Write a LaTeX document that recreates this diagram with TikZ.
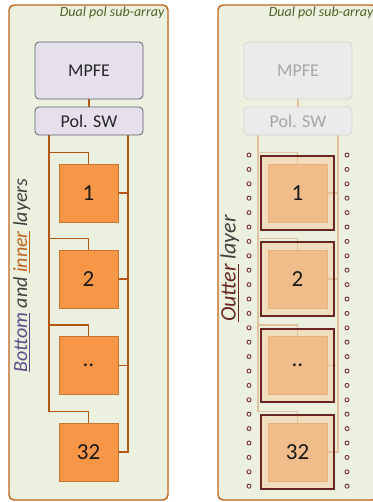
\documentclass[tikz,border=0pt]{standalone}
\usepackage{fontspec}
\setmainfont{Carlito}
\usetikzlibrary{calc}

% colours
\definecolor{panelfill}{HTML}{EBF1DE}
\definecolor{panelline}{HTML}{C0631C}
\definecolor{labelgreen}{HTML}{4F6228}
\definecolor{blockfill}{HTML}{E5E0EC}
\definecolor{blockline}{HTML}{5F5F6F}
\definecolor{feedcol}{HTML}{B35712}
\definecolor{elemfill}{HTML}{F79646}
\definecolor{elemline}{HTML}{C77535}
\definecolor{fadefill}{HTML}{EBEBEB}
\definecolor{fadeline}{HTML}{D4D4D4}
\definecolor{fadetext}{HTML}{A6A6A6}
\definecolor{fadefeed}{HTML}{E2C29C}
\definecolor{framefill}{HTML}{F0DDBE}
\definecolor{frameline}{HTML}{6B2424}
\definecolor{patchfill}{HTML}{F0BD8A}
\definecolor{patchline}{HTML}{E8B07C}
\definecolor{viacol}{HTML}{7B2C2C}
\definecolor{txtgray}{HTML}{404040}
\definecolor{purp}{HTML}{5F4B8B}
\definecolor{innercol}{HTML}{C0651F}

% underlined word in the current colour
\newcommand{\ulword}[1]{\setbox0\hbox{#1}\rlap{\rule[-3.4pt]{\wd0}{1.2pt}}\box0}

\pgfdeclarelayer{bg}
\pgfdeclarelayer{lines}
\pgfsetlayers{bg,lines,main}

\begin{document}
\begin{tikzpicture}[x=1pt,y=-1pt,
  panel/.style={draw=panelline, line width=1.4pt, fill=panelfill, rounded corners=5pt},
  sublabel/.style={font=\fontsize{14}{16}\selectfont\itshape, text=labelgreen, anchor=base east, inner sep=0pt},
  ctrl/.style={draw=blockline, line width=0.8pt, fill=blockfill, rounded corners=4pt,
    minimum width=108pt, inner sep=0pt, font=\fontsize{18}{20}\selectfont, text=black!85},
  ctrlfaded/.style={ctrl, draw=fadeline, fill=fadefill, text=fadetext},
  elem/.style={draw=elemline, line width=0.9pt, fill=elemfill, minimum width=59pt,
    minimum height=58pt, inner sep=0pt, font=\fontsize{23}{25}\selectfont, text=black!90},
  patch/.style={elem, draw=patchline, fill=patchfill},
  frameback/.style={fill=framefill, minimum width=73pt, minimum height=73pt, inner sep=0pt},
  frameedge/.style={draw=frameline, line width=2pt},
  feed/.style={draw=feedcol, line width=1.6pt},
  feedfaded/.style={feed, draw=fadefeed},
  via/.style={draw=viacol, line width=0.9pt, fill=white!60!panelfill},
  layerlabel/.style={rotate=90, anchor=base, inner sep=0pt, font=\itshape}
]
\clip (0,0) rectangle (372,502);

% ---------------- panels ----------------
\begin{pgfonlayer}{bg}
  \draw[panel] (9,5) rectangle (168,500);
  \draw[panel] (218,5) rectangle (377,500);
\end{pgfonlayer}
\node[sublabel] (labL) at (164.5,16.7) {Dual pol sub-array};
\node[sublabel] (labR) at (373.5,16.7) {Dual pol sub-array};

% ---------------- bottom / inner layers ----------------
\node[ctrl, minimum height=57pt] (mpfeL) at (89,70.5) {MPFE};
\node[ctrl, minimum height=28pt] (swL) at (89,121) {Pol. SW};
\node[elem] (e1) at (88.5,193) {1};
\node[elem] (e2) at (88.5,279) {2};
\node[elem] (e3) at (88.5,365.5) {..};
\node[elem] (e4) at (88.5,452) {32};
\coordinate (LbusL) at (49,0);
\coordinate (RbusL) at (128,0);

\node[layerlabel, font=\fontsize{20}{22}\selectfont\itshape] (lyrL) at (27,275.5)
  {{\color{purp}\ulword{Bottom}} {\color{txtgray}and} {\color{innercol}\ulword{inner}} {\color{txtgray}layers}};

\begin{pgfonlayer}{lines}
  \draw[feed] (mpfeL.south) -- (swL.north);
  \draw[feed, line join=miter] (swL.south -| LbusL) |- ($(e4.north)+(0,-11)$) -- (e4.north);
  \foreach \i in {1,2,3}
    \draw[feed] (LbusL |- {$(e\i.north)+(0,-11)$}) -| (e\i.north);
  \draw[feed] (swL.south -| RbusL) |- (e4.east);
  \foreach \i in {1,2,3}
    \draw[feed] (e\i.east) -- (RbusL |- e\i.east);
\end{pgfonlayer}

% ---------------- outer layer ----------------
\node[ctrlfaded, minimum height=57pt] (mpfeR) at (298,70.5) {MPFE};
\node[ctrlfaded, minimum height=28pt] (swR) at (298,121) {Pol. SW};
\coordinate (LbusR) at (258,0);
\coordinate (RbusR) at (338,0);

\begin{pgfonlayer}{bg}
  \node[frameback] (f1) at (297.5,193) {};
  \node[frameback] (f2) at (297.5,279) {};
  \node[frameback] (f3) at (297.5,365.5) {};
  \node[frameback] (f4) at (297.5,452) {};
\end{pgfonlayer}
\foreach \i in {1,...,4}
  \draw[frameedge] (f\i.south west) rectangle (f\i.north east);

\node[patch] (p1) at (297.5,193) {1};
\node[patch] (p2) at (297.5,279) {2};
\node[patch] (p3) at (297.5,365.5) {..};
\node[patch] (p4) at (297.5,452) {32};

\begin{pgfonlayer}{lines}
  \draw[feedfaded] (mpfeR.south) -- (swR.north);
  \draw[feedfaded] (swR.south -| LbusR) |- ($(p4.north)+(0,-11)$) -- (p4.north);
  \foreach \i in {1,2,3}
    \draw[feedfaded] (LbusR |- {$(p\i.north)+(0,-11)$}) -| (p\i.north);
  \draw[feedfaded] (swR.south -| RbusR) |- (p4.east);
  \foreach \i in {1,2,3}
    \draw[feedfaded] (p\i.east) -- (RbusR |- p\i.east);
\end{pgfonlayer}

% via fences on both sides of the outer layer
\foreach \k in {0,...,23} {
  \draw[via] (249,{155+\k*14.4}) circle (2pt);
  \draw[via] (347,{155+\k*14.4}) circle (2pt);
}

\node[layerlabel, font=\fontsize{22}{24}\selectfont\itshape] (lyrR) at (235.5,268.5)
  {{\color{frameline}\ulword{Outter}} {\color{txtgray}layer}};
\end{tikzpicture}
\end{document}
